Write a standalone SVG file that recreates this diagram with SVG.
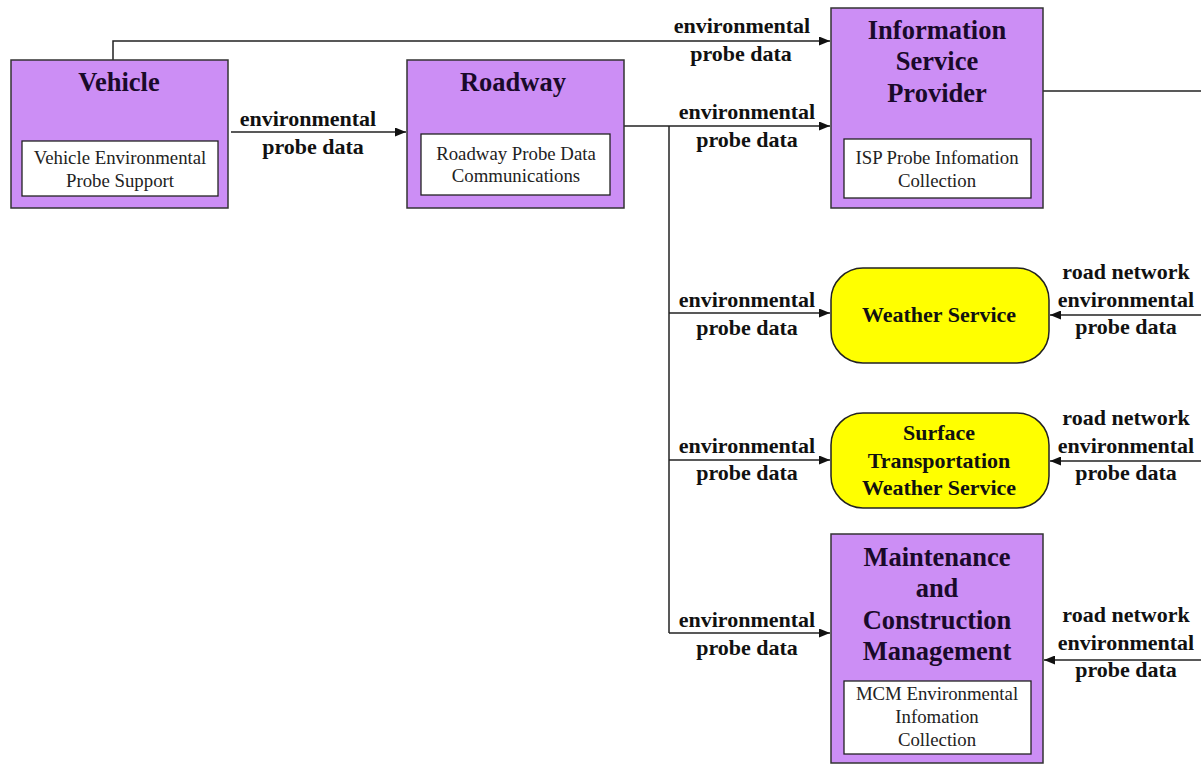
<svg xmlns="http://www.w3.org/2000/svg" width="1201" height="765" viewBox="0 0 1201 765">
<defs>
<marker id="arr" markerWidth="11" markerHeight="9" refX="11" refY="4.5" orient="auto" markerUnits="userSpaceOnUse">
<path d="M0,0 L11,4.5 L0,9 Z" fill="#111"/>
</marker>
<style>
.box{fill:#CC8EF5;stroke:#333;stroke-width:1.5}
.sub{fill:#fff;stroke:#222;stroke-width:1.3}
.yel{fill:#FFFF00;stroke:#222;stroke-width:1.5}
.ttl{font-family:"Liberation Serif","Times New Roman",serif;font-weight:bold;font-size:26.5px;fill:#1a0a2a;text-anchor:middle}
.lbl{font-family:"Liberation Serif","Times New Roman",serif;font-weight:bold;font-size:22px;fill:#111;text-anchor:middle}
.st{font-family:"Liberation Serif","Times New Roman",serif;font-size:18.8px;fill:#222;text-anchor:middle}
.ln{fill:none;stroke:#222;stroke-width:1.5}
</style>
</defs>
<rect width="1201" height="765" fill="#fff"/>

<g id="connectors">
<path class="ln" d="M113,60 V41 H830" marker-end="url(#arr)"/>
<path class="ln" d="M231,132 H406" marker-end="url(#arr)"/>
<path class="ln" d="M624,126 H830" marker-end="url(#arr)"/>
<path class="ln" d="M669,126 V633"/>
<path class="ln" d="M669,313 H830" marker-end="url(#arr)"/>
<path class="ln" d="M669,460 H830" marker-end="url(#arr)"/>
<path class="ln" d="M669,633 H830" marker-end="url(#arr)"/>
<path class="ln" d="M1043,91 H1201"/>
<path class="ln" d="M1201,315 H1050" marker-end="url(#arr)"/>
<path class="ln" d="M1201,461 H1050" marker-end="url(#arr)"/>
<path class="ln" d="M1201,660 H1044" marker-end="url(#arr)"/>
<text class="lbl" x="742" y="33">environmental</text>
<text class="lbl" x="741" y="61">probe data</text>
<text class="lbl" x="308" y="126">environmental</text>
<text class="lbl" x="313" y="154">probe data</text>
<text class="lbl" x="747" y="119">environmental</text>
<text class="lbl" x="747" y="147">probe data</text>
<text class="lbl" x="747" y="307">environmental</text>
<text class="lbl" x="747" y="335">probe data</text>
<text class="lbl" x="747" y="453">environmental</text>
<text class="lbl" x="747" y="480">probe data</text>
<text class="lbl" x="747" y="627">environmental</text>
<text class="lbl" x="747" y="655">probe data</text>
<text class="lbl" x="1126" y="279">road network</text>
<text class="lbl" x="1126" y="307">environmental</text>
<text class="lbl" x="1126" y="334">probe data</text>
<text class="lbl" x="1126" y="425">road network</text>
<text class="lbl" x="1126" y="453">environmental</text>
<text class="lbl" x="1126" y="480">probe data</text>
<text class="lbl" x="1126" y="622">road network</text>
<text class="lbl" x="1126" y="650">environmental</text>
<text class="lbl" x="1126" y="677">probe data</text>
</g>

<g id="vehicle">
<rect class="box" x="11" y="60" width="217" height="148"/>
<text class="ttl" x="119" y="91">Vehicle</text>
<rect class="sub" x="22" y="141" width="196" height="55"/>
<text class="st" x="120" y="164">Vehicle  Environmental</text>
<text class="st" x="120" y="187">Probe Support</text>
</g>

<g id="roadway">
<rect class="box" x="407" y="60" width="217" height="148"/>
<text class="ttl" x="513" y="91">Roadway</text>
<rect class="sub" x="421" y="134" width="189" height="61"/>
<text class="st" x="516" y="160">Roadway Probe Data</text>
<text class="st" x="516" y="182">Communications</text>
</g>

<g id="isp">
<rect class="box" x="831" y="8" width="212" height="200"/>
<text class="ttl" x="937" y="39">Information</text>
<text class="ttl" x="937" y="70">Service</text>
<text class="ttl" x="937" y="102">Provider</text>
<rect class="sub" x="844" y="139" width="187" height="59"/>
<text class="st" x="937" y="164">ISP Probe Infomation</text>
<text class="st" x="937" y="187">Collection</text>
</g>

<g id="weather">
<rect class="yel" x="831" y="268" width="218" height="95" rx="32" ry="32"/>
<text class="lbl" x="939" y="322">Weather Service</text>
</g>

<g id="stws">
<rect class="yel" x="831" y="413" width="218" height="95" rx="32" ry="32"/>
<text class="lbl" x="939" y="440">Surface</text>
<text class="lbl" x="939" y="468">Transportation</text>
<text class="lbl" x="939" y="495">Weather Service</text>
</g>

<g id="mcm">
<rect class="box" x="831" y="534" width="212" height="229"/>
<text class="ttl" x="937" y="566">Maintenance</text>
<text class="ttl" x="937" y="597">and</text>
<text class="ttl" x="937" y="629">Construction</text>
<text class="ttl" x="937" y="660">Management</text>
<rect class="sub" x="844" y="681" width="187" height="73"/>
<text class="st" x="937" y="700">MCM Environmental</text>
<text class="st" x="937" y="723">Infomation</text>
<text class="st" x="937" y="746">Collection</text>
</g>
</svg>
